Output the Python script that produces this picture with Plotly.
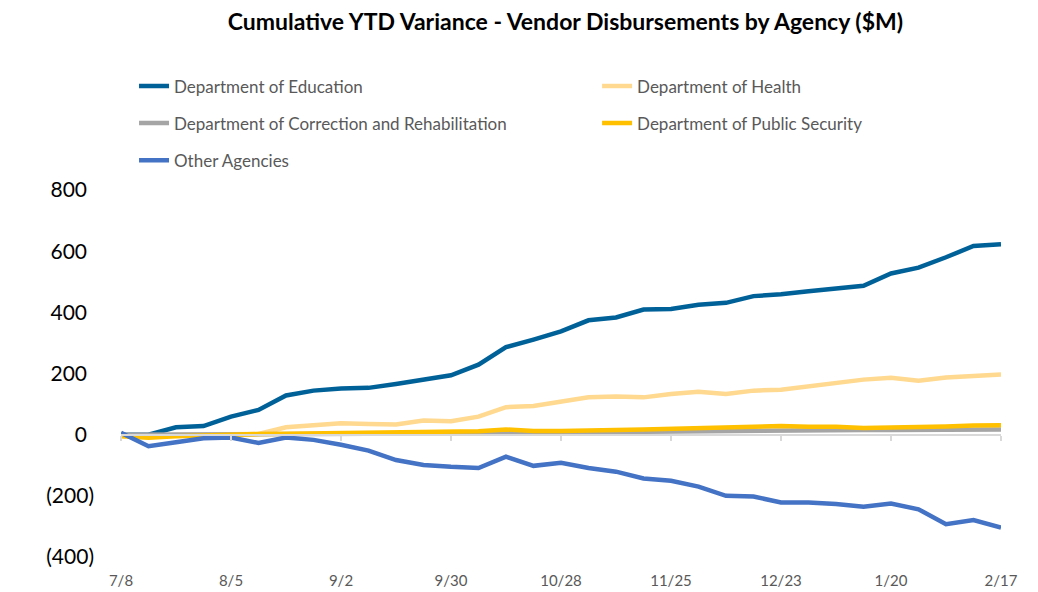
import plotly.graph_objects as go

# weekly dates (x axis categories)
weeks = ["7/8", "7/15", "7/22", "7/29", "8/5", "8/12", "8/19", "8/26",
         "9/2", "9/9", "9/16", "9/23", "9/30", "10/7", "10/14", "10/21",
         "10/28", "11/4", "11/11", "11/18", "11/25", "12/2", "12/9", "12/16",
         "12/23", "12/30", "1/6", "1/13", "1/20", "1/27", "2/3", "2/10", "2/17"]
tick_labels = weeks[::4]

# cumulative YTD variance, $M
education = [0, 0, 24, 28, 59, 81, 128, 144, 151, 153, 166, 179, 194,
             229, 286, 311, 338, 374, 383, 409, 411, 425, 431, 453,
             459, 469, 477, 487, 527, 546, 580, 617, 623]
health = [0, -5, 0, 0, 0, 2, 24, 30, 37, 35, 33, 46, 44,
          59, 90, 94, 109, 122, 125, 122, 133, 140, 133, 144,
          147, 157, 169, 180, 186, 176, 187, 192, 197]
correction = [0, 0, 0, 0, 0, 1, 2, 3, 3, 3, 4, 4, 4,
              5, 6, 7, 7, 8, 9, 10, 11, 12, 12, 13,
              14, 14, 14, 15, 15, 15, 16, 16, 17]
public_security = [-5, -10, -5, -2, 0, 2, 3, 4, 5, 5, 6, 8, 8,
                   11, 17, 12, 12, 15, 15, 17, 19, 19, 21, 23,
                   28, 26, 26, 22, 23, 26, 27, 30, 31]
other = [6, -38, -25, -12, -9, -27, -9, -17, -33, -52, -83, -99, -105,
         -109, -72, -102, -92, -109, -121, -143, -151, -170, -200, -202,
         -222, -222, -227, -236, -225, -244, -293, -279, -304]

y_ticks = [-400, -200, 0, 200, 400, 600, 800]
# accounting style: negatives in brackets, positives padded to line up
y_tick_text = ["(400)", "(200)", "0\u2004", "200\u2004", "400\u2004",
               "600\u2004", "800\u2004"]

series = [
    ("Department of Education", education, "#006199", "legend"),
    ("Department of Health", health, "#FFD98F", "legend2"),
    ("Department of Correction and Rehabilitation", correction, "#A5A5A5", "legend3"),
    ("Department of Public Security", public_security, "#FFC000", "legend4"),
    ("Other Agencies", other, "#4472C4", "legend5"),
]

FONT = "Lato"

fig = go.Figure()

# dummy trace so the zero-line axis (x2) gets drawn
fig.add_trace(go.Scatter(x=weeks, y=[None] * len(weeks), xaxis="x2",
                         showlegend=False, hoverinfo="skip"))

for name, vals, colour, leg in series:
    fig.add_trace(go.Scatter(
        x=weeks, y=vals, name=name, mode="lines",
        line=dict(color=colour, width=4.5),
        legend=leg))

# legend placement, one legend per entry (2 column layout)
leg_font = dict(family=FONT, size=17, color="#595959")
col_x = [0.0148, 0.541]
row_y = [1.282, 1.181, 1.080]
leg_pos = {
    "legend": (col_x[0], row_y[0]),
    "legend2": (col_x[1], row_y[0]),
    "legend3": (col_x[0], row_y[1]),
    "legend4": (col_x[1], row_y[1]),
    "legend5": (col_x[0], row_y[2]),
}
legends = {}
for key, (lx, ly) in leg_pos.items():
    legends[key] = dict(x=lx, y=ly, xanchor="left", yanchor="middle",
                        font=leg_font, bgcolor="rgba(0,0,0,0)",
                        borderwidth=0)

# the page body adds an 8px offset, so margins are shifted to compensate
fig.update_layout(
    width=1038, height=592,
    margin=dict(l=113, r=45, t=182, b=43),
    paper_bgcolor="white", plot_bgcolor="white",
    title=dict(
        text="<b>Cumulative YTD Variance - Vendor Disbursements by Agency ($M)</b>",
        x=0.537, xanchor="center", y=0.976, yanchor="middle",
        font=dict(family=FONT, size=23, color="black")),
    xaxis=dict(
        type="category", categoryorder="array", categoryarray=weeks,
        range=[0, len(weeks) - 1], automargin=False,
        tickmode="array", tickvals=tick_labels, ticktext=tick_labels,
        showgrid=False, showline=False, zeroline=False, ticks="",
        ticklabelstandoff=13,
        tickfont=dict(family=FONT, size=15, color="#595959")),
    xaxis2=dict(
        type="category", categoryorder="array", categoryarray=weeks,
        range=[0, len(weeks) - 1], overlaying="x", automargin=False,
        anchor="free", position=1 / 3, side="bottom",
        tickmode="array", tickvals=tick_labels,
        showticklabels=False, showgrid=False, zeroline=False,
        showline=True, linecolor="#D9D9D9", linewidth=2,
        ticks="outside", ticklen=5, tickwidth=2, tickcolor="#D9D9D9"),
    yaxis=dict(
        range=[-400, 800], tickvals=y_ticks, ticktext=y_tick_text,
        showgrid=False, zeroline=False, showline=False, automargin=False,
        ticklabelstandoff=26,
        tickfont=dict(family=FONT, size=21, color="black")),
    **legends,
)

fig.write_html("out.html")
